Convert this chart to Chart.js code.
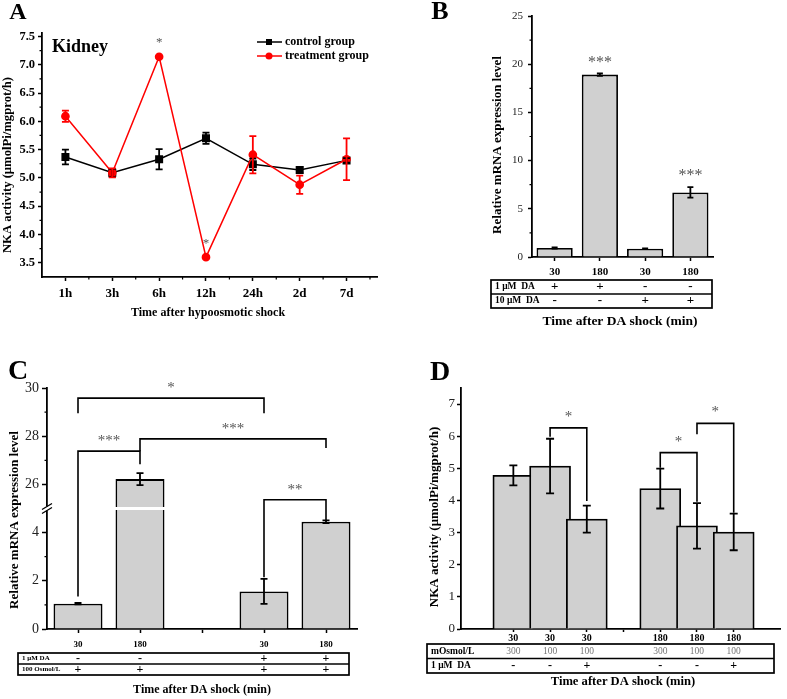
<!DOCTYPE html>
<html>
<head>
<meta charset="utf-8">
<script src="https://cdn.jsdelivr.net/npm/chart.js@4.4.1/dist/chart.umd.min.js"></script>
<style>
  body { margin: 0; background: #fff; width: 787px; height: 699px; position: relative; overflow: hidden; }
  canvas { position: absolute; }
</style>
</head>
<body>
<canvas id="chartA" width="395" height="330" style="left:0;top:0"></canvas>
<canvas id="chartB" width="387" height="336" style="left:400px;top:0"></canvas>
<canvas id="chartC" width="400" height="369" style="left:0;top:330px"></canvas>
<canvas id="chartD" width="387" height="369" style="left:400px;top:330px"></canvas>
<script>
// ---- panel A : kidney NKA activity after hypoosmotic shock
const timePoints = ["1h", "3h", "6h", "12h", "24h", "2d", "7d"];
const controlMeans = [5.37, 5.09, 5.33, 5.70, 5.24, 5.14, 5.31];
const controlErr = [0.13, 0.07, 0.18, 0.10, 0.10, 0.05, 0.04];
const treatMeans = [6.09, 5.09, 7.14, 3.60, 5.41, 4.88, 5.33];
const treatErr = [0.10, 0.08, 0, 0, 0.33, 0.16, 0.37];
const sigA = ["", "", "*", "*", "", "", ""];
const yTicksA = [3.5, 4.0, 4.5, 5.0, 5.5, 6.0, 6.5, 7.0, 7.5];

// ---- panel B : mRNA after DA shock
const timeB = ["30", "180", "30", "180"];
const lowDaB = ["+", "+", "-", "-"];
const highDaB = ["-", "-", "+", "+"];
const mrnaB = [0.93, 18.92, 0.86, 6.70];
const mrnaErrB = [0.06, 0.12, 0.04, 0.55];
const sigB = ["", "***", "", "***"];
const yTicksB = [0, 5, 10, 15, 20, 25];

// ---- panel C : mRNA, broken y axis (0-5 then 25-30)
const timeC = ["30", "180", "", "30", "180"];
const daC = ["-", "-", "", "+", "+"];
const osmC = ["+", "+", "", "+", "+"];
const mrnaC = [1.05, 26.22, null, 1.56, 4.45];
const mrnaErrC = [0.03, 0.25, 0, 0.52, 0.06];
const yTicksC = [0, 2, 4, 26, 28, 30];

// ---- panel D : NKA activity after DA shock
const timeD = ["30", "30", "30", "", "180", "180", "180"];
const osmD = ["300", "100", "100", "", "300", "100", "100"];
const daD = ["-", "-", "+", "", "-", "-", "+"];
const nkaD = [4.78, 5.07, 3.42, null, 4.37, 3.21, 3.02];
const nkaErrD = [0.31, 0.85, 0.42, 0, 0.62, 0.71, 0.57];
const yTicksD = [0, 1, 2, 3, 4, 5, 6, 7];

// significance brackets: [from, to, top, leftEnd, rightEnd, label]
const bracketsC = [
  [0, 3, 9.58, 8.95, 8.95, "*"],
  [0, 1, 7.38, 1.35, 6.84, "***"],
  [1, 4, 7.89, 7.38, 7.51, "***"],
  [3, 4, 5.36, 2.15, 4.50, "**"]
];
const bracketsD = [
  [2, 3, 6.26, 5.98, 3.98, "*"],
  [5, 6, 5.49, 5.02, 3.96, "*"],
  [6, 7, 6.40, 6.06, 3.62, "*"]
];

const serif = '"Liberation Serif", "Times New Roman", serif';
const ink = "#000";
const starGray = "#555";
const barFill = "#d0d0d0";

// broken axis of C: values above the break are shifted down by 20
const breakC = (v) => (v >= 15 ? v - 20 : v);
const unbreakC = (v) => (v > 5 ? v + 20 : v);

function text(ctx, s, x, y, size, o = {}) {
  ctx.save();
  ctx.font = (o.bold === false ? "" : "bold ") + size + "px " + serif;
  ctx.fillStyle = o.color || ink;
  ctx.textAlign = o.align || "center";
  ctx.textBaseline = "middle";
  ctx.translate(x, y);
  if (o.rot) ctx.rotate(o.rot);
  ctx.fillText(s, 0, 0);
  ctx.restore();
}

function drawErr(chart, dsIdx, means, errs, cap, color, map = (v) => v) {
  const ctx = chart.ctx;
  const y = chart.scales.y;
  const meta = chart.getDatasetMeta(dsIdx);
  ctx.save();
  ctx.strokeStyle = color;
  ctx.lineWidth = 1.8;
  meta.data.forEach((el, i) => {
    const m = means[i], e = errs[i];
    if (m == null || !e) return;
    const x = el.x;
    const t = y.getPixelForValue(map(m + e));
    const b = y.getPixelForValue(map(m - e));
    ctx.beginPath();
    ctx.moveTo(x, t); ctx.lineTo(x, b);
    ctx.moveTo(x - cap, t); ctx.lineTo(x + cap, t);
    ctx.moveTo(x - cap, b); ctx.lineTo(x + cap, b);
    ctx.stroke();
  });
  ctx.restore();
}

function minorTicks(chart, axis, vals, len) {
  const { ctx, chartArea: ca } = chart;
  const s = chart.scales[axis];
  ctx.save();
  ctx.strokeStyle = ink;
  ctx.lineWidth = 1.2;
  ctx.beginPath();
  vals.forEach((v) => {
    const p = s.getPixelForValue(v);
    if (axis === "y") { ctx.moveTo(ca.left, p); ctx.lineTo(ca.left - len, p); }
    else { ctx.moveTo(p, ca.bottom); ctx.lineTo(p, ca.bottom + len); }
  });
  ctx.stroke();
  ctx.restore();
}

function midpoints(arr) {
  const out = [];
  for (let i = 1; i < arr.length; i++) out.push((arr[i - 1] + arr[i]) / 2);
  return out;
}

function drawBrackets(chart, list, xOf, dy) {
  const ctx = chart.ctx, y = chart.scales.y;
  ctx.save();
  ctx.strokeStyle = ink;
  ctx.lineWidth = 1.6;
  list.forEach(([a, b, top, le, re, label]) => {
    const x1 = xOf(a), x2 = xOf(b);
    const yt = y.getPixelForValue(top);
    ctx.beginPath();
    ctx.moveTo(x1, y.getPixelForValue(le));
    ctx.lineTo(x1, yt);
    ctx.lineTo(x2, yt);
    ctx.lineTo(x2, y.getPixelForValue(re));
    ctx.stroke();
    text(ctx, label, (x1 + x2) / 2, yt + dy, 15, { bold: false, color: starGray });
  });
  ctx.restore();
}

function drawTable(chart, box, rows, xOf) {
  const ctx = chart.ctx;
  const [l, t, r, b] = box;
  const h = (b - t) / rows.length;
  ctx.save();
  ctx.strokeStyle = ink;
  ctx.lineWidth = 1.7;
  ctx.strokeRect(l, t, r - l, b - t);
  ctx.beginPath();
  for (let k = 1; k < rows.length; k++) { ctx.moveTo(l, t + k * h); ctx.lineTo(r, t + k * h); }
  ctx.stroke();
  rows.forEach((row, k) => {
    const cy = t + (k + 0.5) * h;
    text(ctx, row.label, l + 4, cy, row.labelSize, { align: "left", bold: row.labelBold !== false, color: row.labelColor });
    row.cells.forEach((c, i) => {
      if (!c) return;
      text(ctx, c, xOf(i), cy, row.cellSize, { bold: row.cellBold !== false, color: row.cellColor });
    });
  });
  ctx.restore();
}

function yAxis(width, ticks, opts) {
  return {
    min: opts.min, max: opts.max,
    afterFit: (s) => { s.width = width; },
    afterBuildTicks: (s) => { s.ticks = ticks.map((v) => ({ value: v })); },
    ticks: {
      autoSkip: false,
      padding: opts.pad,
      color: opts.bold ? ink : "#222",
      font: { family: serif, size: opts.size, weight: opts.bold ? "bold" : "normal" },
      callback: opts.label || ((v) => v)
    },
    grid: { drawOnChartArea: false, tickLength: opts.tl, tickColor: ink, tickWidth: 1.5 },
    border: { color: ink, width: 1.8 }
  };
}

function xAxis(height, opts) {
  const ax = {
    afterFit: (s) => { s.height = height; },
    ticks: {
      autoSkip: false, maxRotation: 0, padding: opts.pad, color: ink,
      font: { family: serif, size: opts.size, weight: "bold" }
    },
    grid: { drawOnChartArea: false, offset: false, tickLength: opts.tl, tickColor: ink, tickWidth: 1.5 },
    border: { color: ink, width: 1.8 }
  };
  return Object.assign(ax, opts.extra || {});
}

const base = {
  responsive: false,
  animation: false,
  devicePixelRatio: 1,
  events: []
};

// ================= A
new Chart(document.getElementById("chartA"), {
  type: "line",
  data: {
    datasets: [
      {
        label: "control group",
        data: timePoints.map((t, i) => ({ x: i + 1, y: controlMeans[i] })),
        borderColor: "#000", backgroundColor: "#000", borderWidth: 1.5,
        pointStyle: "rect", pointRadius: 4.6, tension: 0, order: 1
      },
      {
        label: "treatment group",
        data: timePoints.map((t, i) => ({ x: i + 1, y: treatMeans[i] })),
        borderColor: "#ff0000", backgroundColor: "#ff0000", borderWidth: 1.5,
        pointStyle: "circle", pointRadius: 3.6, tension: 0, order: 0
      }
    ]
  },
  options: Object.assign({}, base, {
    layout: { padding: { top: 33, right: 18, left: 0, bottom: 0 } },
    plugins: { legend: { display: false }, tooltip: { enabled: false } },
    scales: {
      x: xAxis(53, {
        pad: 5, tl: 4, size: 13,
        extra: {
          type: "linear", min: 0.5, max: 7.65,
          afterBuildTicks: (s) => { s.ticks = timePoints.map((t, i) => ({ value: i + 1 })); }
        }
      }),
      y: yAxis(42, yTicksA, { min: 3.25, max: 7.56, pad: 3, tl: 4, size: 12.5, bold: true, label: (v) => v.toFixed(1) })
    }
  }),
  plugins: [{
    id: "annA",
    beforeInit(chart) {
      chart.options.scales.x.ticks.callback = (v) => timePoints[v - 1] || "";
    },
    afterDatasetsDraw(chart) {
      const ctx = chart.ctx, x = chart.scales.x, y = chart.scales.y;
      drawErr(chart, 0, controlMeans, controlErr, 3.5, "#000");
      drawErr(chart, 1, treatMeans, treatErr, 3.5, "#ff0000");
      minorTicks(chart, "y", midpoints(yTicksA), 2.5);
      minorTicks(chart, "x", midpoints([0.5, 1, 2, 3, 4, 5, 6, 7, 8]).slice(1), 2.5);
      sigA.forEach((s, i) => {
        if (s) text(ctx, s, x.getPixelForValue(i + 1), y.getPixelForValue(treatMeans[i]) - 14, 13, { bold: false, color: starGray });
      });
      // legend
      chart.data.datasets.forEach((ds, k) => {
        const ly = 42 + k * 14;
        ctx.save();
        ctx.strokeStyle = ds.borderColor;
        ctx.fillStyle = ds.backgroundColor;
        ctx.lineWidth = 1.5;
        ctx.beginPath(); ctx.moveTo(257, ly); ctx.lineTo(282, ly); ctx.stroke();
        if (ds.pointStyle === "rect") ctx.fillRect(266, ly - 3, 6, 6);
        else { ctx.beginPath(); ctx.arc(269, ly, 3.5, 0, Math.PI * 2); ctx.fill(); }
        ctx.restore();
        text(ctx, ds.label, 285, ly, 12, { align: "left" });
      });
      text(ctx, "Kidney", 52, 47, 18, { align: "left" });
      text(ctx, "NKA activity (μmolPi/mgprot/h)", 8, 165, 12.7, { rot: -Math.PI / 2 });
      text(ctx, "Time after hypoosmotic shock", 208, 313, 12);
      text(ctx, "A", 18, 13, 24);
    }
  }]
});

// ================= B
new Chart(document.getElementById("chartB"), {
  type: "bar",
  data: {
    labels: timeB,
    datasets: [{
      data: mrnaB,
      backgroundColor: barFill, borderColor: ink, borderWidth: 1.8,
      barPercentage: 0.8, categoryPercentage: 1
    }]
  },
  options: Object.assign({}, base, {
    layout: { padding: { top: 16, right: 74, left: 0, bottom: 0 } },
    plugins: { legend: { display: false }, tooltip: { enabled: false } },
    scales: {
      x: xAxis(79, { pad: 5, tl: 4, size: 11 }),
      y: yAxis(132, yTicksB, { min: 0, max: 25, pad: 5, tl: 4, size: 11, bold: false })
    }
  }),
  plugins: [{
    id: "annB",
    afterDatasetsDraw(chart) {
      const ctx = chart.ctx, x = chart.scales.x, y = chart.scales.y;
      drawErr(chart, 0, mrnaB, mrnaErrB, 3, ink);
      minorTicks(chart, "y", midpoints(yTicksB), 2.5);
      sigB.forEach((s, i) => {
        if (s) text(ctx, s, x.getPixelForValue(i), y.getPixelForValue(mrnaB[i] + mrnaErrB[i]) - 11, 16, { bold: false, color: starGray });
      });
      drawTable(chart, [91, 280, 312, 308], [
        { label: "1 μM  DA", labelSize: 9.5, cells: lowDaB, cellSize: 13 },
        { label: "10 μM  DA", labelSize: 9.5, cells: highDaB, cellSize: 13 }
      ], (i) => x.getPixelForValue(i));
      text(ctx, "Relative mRNA expression level", 98, 145, 13, { rot: -Math.PI / 2 });
      text(ctx, "Time after DA shock (min)", 220, 322, 13.5);
      text(ctx, "B", 40, 12, 26);
    }
  }]
});

// ================= C
new Chart(document.getElementById("chartC"), {
  type: "bar",
  data: {
    labels: timeC,
    datasets: [{
      data: mrnaC.map((v) => (v == null ? null : breakC(v))),
      backgroundColor: barFill, borderColor: ink, borderWidth: 1.8,
      barPercentage: 0.79, categoryPercentage: 1
    }]
  },
  options: Object.assign({}, base, {
    layout: { padding: { top: 58, right: 43, left: 0, bottom: 0 } },
    plugins: { legend: { display: false }, tooltip: { enabled: false } },
    scales: {
      x: xAxis(70, { pad: 6, tl: 4, size: 9 }),
      y: yAxis(47, yTicksC.map(breakC), { min: 0, max: 10, pad: 3, tl: 5, size: 14, bold: false, label: unbreakC })
    }
  }),
  plugins: [{
    id: "annC",
    afterDatasetsDraw(chart) {
      const ctx = chart.ctx, x = chart.scales.x, y = chart.scales.y, ca = chart.chartArea;
      drawErr(chart, 0, mrnaC, mrnaErrC, 3.5, ink, breakC);
      minorTicks(chart, "y", [1, 3, 7, 9], 2.5);
      // axis break
      const yb = y.getPixelForValue(5);
      const xb = x.getPixelForValue(1);
      ctx.save();
      ctx.fillStyle = "#fff";
      ctx.fillRect(xb - 26, yb - 1.5, 52, 3);
      ctx.fillRect(ca.left - 2, yb - 2, 4, 4);
      ctx.strokeStyle = ink;
      ctx.lineWidth = 1.3;
      ctx.beginPath();
      ctx.moveTo(ca.left - 5, yb + 1); ctx.lineTo(ca.left + 5, yb - 5);
      ctx.moveTo(ca.left - 5, yb + 5); ctx.lineTo(ca.left + 5, yb - 1);
      ctx.stroke();
      ctx.restore();
      drawBrackets(chart, bracketsC, (i) => x.getPixelForValue(i), -10);
      drawTable(chart, [18, 323, 349, 345], [
        { label: "1 μM DA", labelSize: 7, cells: daC, cellSize: 12 },
        { label: "100 Osmol/L", labelSize: 7, cells: osmC, cellSize: 12 }
      ], (i) => x.getPixelForValue(i));
      text(ctx, "Relative mRNA expression level", 15, 190, 13, { rot: -Math.PI / 2 });
      text(ctx, "Time after DA shock (min)", 202, 360, 12);
      text(ctx, "C", 18, 42, 28);
    }
  }]
});

// ================= D
new Chart(document.getElementById("chartD"), {
  type: "bar",
  data: {
    datasets: [{
      data: timeD.map((t, i) => ({ x: i + 1, y: nkaD[i] })),
      backgroundColor: barFill, borderColor: ink, borderWidth: 1.8,
      barThickness: 41
    }]
  },
  options: Object.assign({}, base, {
    layout: { padding: { top: 58, right: 7, left: 0, bottom: 0 } },
    plugins: { legend: { display: false }, tooltip: { enabled: false } },
    scales: {
      x: xAxis(70, {
        pad: 0, tl: 3, size: 10,
        extra: {
          type: "linear", min: 0.195, max: 7.64,
          afterBuildTicks: (s) => { s.ticks = timeD.map((t, i) => ({ value: i + 1 })); }
        }
      }),
      y: yAxis(61, yTicksD, { min: 0, max: 7.5, pad: 2, tl: 4, size: 13, bold: false })
    }
  }),
  plugins: [{
    id: "annD",
    beforeInit(chart) {
      chart.options.scales.x.ticks.callback = (v) => timeD[v - 1] || "";
    },
    afterDatasetsDraw(chart) {
      const ctx = chart.ctx, x = chart.scales.x;
      drawErr(chart, 0, nkaD, nkaErrD, 4, ink);
      drawBrackets(chart, bracketsD, (p) => x.getPixelForValue(p), -11);
      drawTable(chart, [27, 314, 374, 343], [
        { label: "mOsmol/L", labelSize: 9.5, cells: osmD, cellSize: 9.5, cellBold: false, cellColor: "#777" },
        { label: "1 μM  DA", labelSize: 9.5, cells: daD, cellSize: 12 }
      ], (i) => x.getPixelForValue(i + 1));
      text(ctx, "NKA activity (μmolPi/mgprot/h)", 35, 187, 13, { rot: -Math.PI / 2 });
      text(ctx, "Time after DA shock (min)", 223, 352, 12.6);
      text(ctx, "D", 40, 43, 28);
    }
  }]
});
</script>
</body>
</html>
